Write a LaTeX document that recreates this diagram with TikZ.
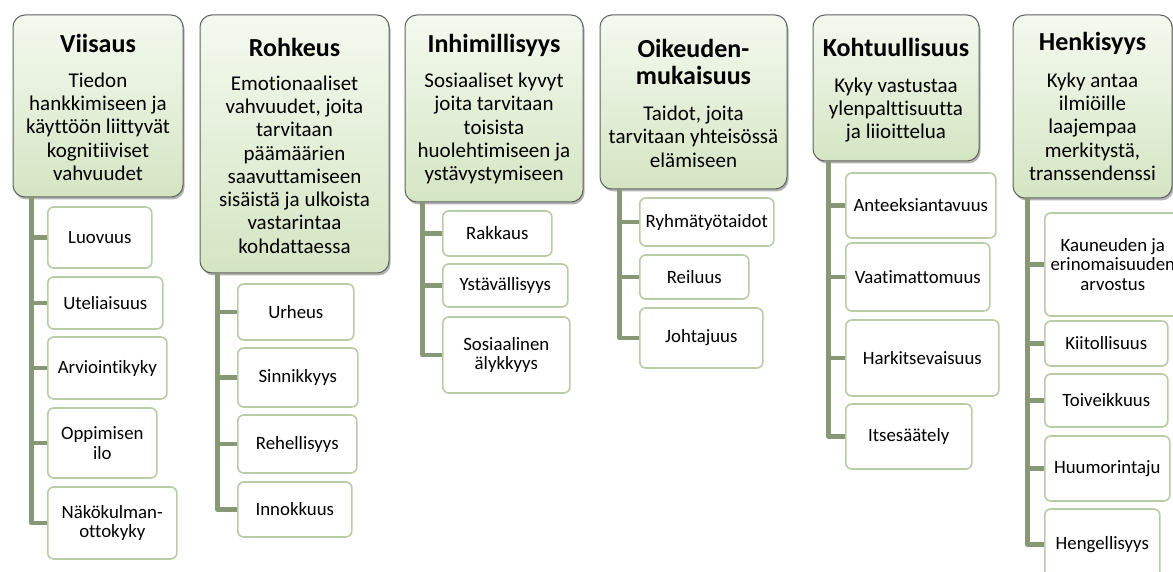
\documentclass[tikz,border=0pt]{standalone}
\usepackage{fontspec}
\setmainfont[Ligatures=NoCommon]{Carlito}
\usetikzlibrary{shadows}
\definecolor{trunkc}{RGB}{136,151,118}
\definecolor{kidline}{RGB}{185,204,166}
\definecolor{ptop}{RGB}{244,249,239}
\definecolor{pbot}{RGB}{212,229,195}
\tikzset{
  parent/.style={draw=black!62, line width=1pt, rounded corners=12pt,
    top color=ptop, bottom color=pbot, inner sep=0pt,
    drop shadow={shadow xshift=1.5pt, shadow yshift=-2.5pt, opacity=0.3, fill=black}},
  ttl/.style={font=\fontsize{26}{27}\selectfont\bfseries, align=center, inner sep=0pt},
  dsc/.style={font=\fontsize{21}{23.3}\selectfont, align=center, inner sep=0pt},
  kid/.style={draw=kidline, line width=1.6pt, rounded corners=6pt, fill=white,
    font=\fontsize{18.8}{19.8}\selectfont, align=center, inner sep=0pt, anchor=west},
  conn/.style={draw=trunkc, line width=4.5pt, line join=round}
}
\newcommand{\kbox}[6]{\node[kid, minimum width=#3pt, minimum height=#4pt] (#1) at (#5,#6) {#2};}
\begin{document}
\begin{tikzpicture}[x=1pt,y=-1pt]
\clip (0,0) rectangle (1173,572);
\fill[white] (0,0) rectangle (1173,572);

% ---------- Viisaus
\node[parent, minimum width=170pt, minimum height=182pt] (V) at (98,106) {};
\node[ttl] (Vt) at (98,43) {Viisaus};
\node[dsc] (Vd) at (98,126.5) {Tiedon\\hankkimiseen ja\\käyttöön liittyvät\\kognitiiviset\\vahvuudet};
\kbox{v1}{Luovuus}{104}{61}{47}{237.5}
\kbox{v2}{Uteliaisuus}{115}{52}{47}{303}
\kbox{v3}{Arviointikyky}{119}{62}{47}{368}
\kbox{v4}{Oppimisen\\ilo}{109}{70}{47}{443}
\kbox{v5}{Näkökulman-\\ottokyky}{129}{72}{47}{523}
\foreach \c in {v1,v2,v3,v4,v5} \draw[conn] ([xshift=19pt]V.south west) |- (\c.west);

% ---------- Rohkeus
\node[parent, minimum width=189pt, minimum height=258pt] (R) at (294.5,144) {};
\node[ttl] (Rt) at (294.5,47) {Rohkeus};
\node[dsc] (Rd) at (294.5,164.5) {Emotionaaliset\\vahvuudet, joita\\tarvitaan\\päämäärien\\saavuttamiseen\\sisäistä ja ulkoista\\vastarintaa\\kohdattaessa};
\kbox{r1}{Urheus}{116}{56}{237}{312}
\kbox{r2}{Sinnikkyys}{120}{59}{237}{377.5}
\kbox{r3}{Rehellisyys}{119}{58}{237}{444}
\kbox{r4}{Innokkuus}{114}{55}{237}{509.5}
\foreach \c in {r1,r2,r3,r4} \draw[conn] ([xshift=18pt]R.south west) |- (\c.west);

% ---------- Inhimillisyys
\node[parent, minimum width=178pt, minimum height=187pt] (I) at (494,108.5) {};
\node[ttl] (It) at (494,45) {Inhimillisyys};
\node[dsc] (Id) at (494,128.5) {Sosiaaliset kyvyt\\joita tarvitaan\\toisista\\huolehtimiseen ja\\ystävystymiseen};
\kbox{i1}{Rakkaus}{109}{45}{442}{233.5}
\kbox{i2}{Ystävällisyys}{125}{43}{442}{285.5}
\kbox{i3}{Sosiaalinen\\älykkyys}{127}{76}{442}{355}
\foreach \c in {i1,i2,i3} \draw[conn] ([xshift=18pt]I.south west) |- (\c.west);

% ---------- Oikeudenmukaisuus
\node[parent, minimum width=187pt, minimum height=174pt] (O) at (693.5,102) {};
\node[ttl] (Ot) at (693.5,61.5) {Oikeuden-\\mukaisuus};
\node[dsc] (Od) at (693.5,136.5) {Taidot, joita\\tarvitaan yhteisössä\\elämiseen};
\kbox{o1}{Ryhmätyötaidot}{134}{48}{639}{222}
\kbox{o2}{Reiluus}{109}{44}{639}{277}
\kbox{o3}{Johtajuus}{123}{60}{639}{338}
\foreach \c in {o1,o2,o3} \draw[conn] ([xshift=20pt]O.south west) |- (\c.west);

% ---------- Kohtuullisuus
\node[parent, minimum width=166pt, minimum height=146pt] (K) at (896,88) {};
\node[ttl] (Kt) at (896,47) {Kohtuullisuus};
\node[dsc] (Kd) at (896,110) {Kyky vastustaa\\ylenpalttisuutta\\ja liioittelua};
\kbox{k1}{Anteeksiantavuus}{150}{65}{845}{205.5}
\kbox{k2}{Vaatimattomuus}{144}{68}{845}{277}
\kbox{k3}{Harkitsevaisuus}{153}{76}{845}{358}
\kbox{k4}{Itsesäätely}{126}{65}{845}{436.5}
\foreach \c in {k1,k2,k3,k4} \draw[conn] ([xshift=16pt]K.south west) |- (\c.west);

% ---------- Henkisyys
\node[parent, minimum width=159pt, minimum height=183pt] (H) at (1092.5,106.5) {};
\node[ttl] (Ht) at (1092.5,43) {Henkisyys};
\node[dsc] (Hd) at (1092.5,126.5) {Kyky antaa\\ilmiöille\\laajempaa\\merkitystä,\\transsendenssi};
\kbox{h1}{Kauneuden ja\\erinomaisuuden\\arvostus}{136}{103}{1044}{264.5}
\kbox{h2}{Kiitollisuus}{123}{45}{1044}{343.5}
\kbox{h3}{Toiveikkuus}{123}{53}{1044}{400.5}
\kbox{h4}{Huumorintaju}{125}{65}{1044}{468.5}
\kbox{h5}{Hengellisyys}{115}{71}{1044}{544.5}
\foreach \c in {h1,h2,h3,h4,h5} \draw[conn] ([xshift=15pt]H.south west) |- (\c.west);
\end{tikzpicture}
\end{document}
